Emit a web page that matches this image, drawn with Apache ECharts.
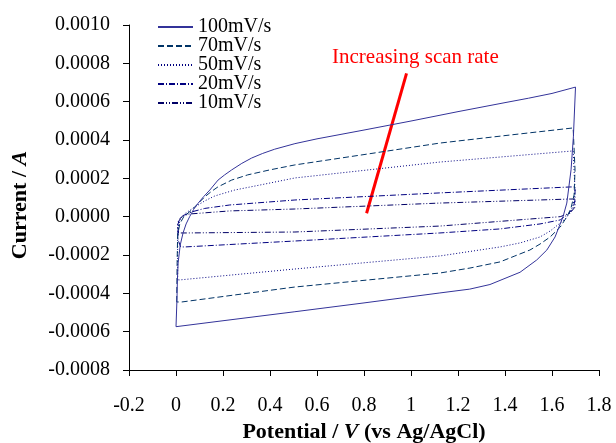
<!DOCTYPE html>
<html>
<head>
<meta charset="UTF-8">
<title>CV</title>
<style>
  * { margin: 0; padding: 0; }
  #main { width: 616px; height: 443px; background: #fff; }
</style>
</head>
<body>
<div id="main"></div>
<script src="https://cdn.jsdelivr.net/npm/echarts@6/dist/echarts.min.js"></script>
<script>
// potential (V) and current (A), one loop per scan rate
var names = ['100mV/s', '70mV/s', '50mV/s', '20mV/s', '10mV/s'];

var v100 = [0.000, 0.004, 0.006, 0.009, 0.018, 0.030, 0.043, 0.058, 0.075, 0.094, 0.118, 0.144, 0.179, 0.207, 0.237, 0.280, 0.322, 0.369, 0.420, 0.506,
            0.600, 0.800, 1.000, 1.200, 1.400, 1.500, 1.600, 1.700,
            1.691, 1.681, 1.663, 1.647, 1.613, 1.578, 1.535, 1.464, 1.400, 1.336, 1.250, 1.123, 0.800, 0.506, 0.200, 0.000];
var i100 = [-0.000574, -0.000435, -0.000330, -0.000242, -0.000148, -0.000085, -0.000038, 0.000000, 0.000038, 0.000070, 0.000105, 0.000139, 0.000191, 0.000218, 0.000244, 0.000278, 0.000306, 0.000330, 0.000352, 0.000381,
            0.000406, 0.000452, 0.000499, 0.000548, 0.000595, 0.000618, 0.000643, 0.000676,
            0.000416, 0.000244, 0.000071, 0.000000, -0.000106, -0.000174, -0.000226, -0.000290, -0.000322, -0.000354, -0.000378, -0.000398, -0.000450, -0.000496, -0.000543, -0.000574];

var v70 = [0.003, 0.005, 0.007, 0.016, 0.033, 0.067, 0.092, 0.122, 0.148, 0.178, 0.237, 0.305, 0.399, 0.506, 0.800, 1.123, 1.400, 1.690,
           1.698, 1.698, 1.694, 1.681, 1.664, 1.635, 1.592, 1.549, 1.506, 1.442, 1.379, 1.251, 1.123, 0.506, 0.025, 0.003];
var i70 = [-0.000445, -0.000226, -0.000096, -0.000038, 0.000000, 0.000035, 0.000066, 0.000103, 0.000129, 0.000155, 0.000191, 0.000218, 0.000244, 0.000270, 0.000324, 0.000384, 0.000423, 0.000463,
           0.000463, 0.000244, 0.000113, 0.000045, 0.000000, -0.000054, -0.000106, -0.000143, -0.000174, -0.000205, -0.000236, -0.000268, -0.000294, -0.000367, -0.000445, -0.000445];

var v50 = [0.007, 0.007, 0.011, 0.020, 0.041, 0.080, 0.122, 0.165, 0.250, 0.357, 0.506, 1.123, 1.690,
           1.698, 1.698, 1.690, 1.677, 1.656, 1.635, 1.592, 1.549, 1.464, 1.379, 1.123, 0.506, 0.016, 0.007];
var i50 = [-0.000330, -0.000122, -0.000043, -0.000007, 0.000019, 0.000050, 0.000082, 0.000108, 0.000139, 0.000165, 0.000202, 0.000285, 0.000343,
           0.000343, 0.000139, 0.000061, 0.000019, -0.000012, -0.000033, -0.000075, -0.000106, -0.000137, -0.000158, -0.000205, -0.000273, -0.000330, -0.000330];

var v20 = [0.020, 0.009, 0.007, 0.016, 0.037, 0.067, 0.122, 0.229, 0.506, 1.123, 1.677,
           1.698, 1.698, 1.690, 1.669, 1.635, 1.549, 1.379, 1.123, 0.506, 0.037, 0.020];
var i20 = [-0.000158, -0.000122, -0.000043, -0.000012, 0.000009, 0.000025, 0.000043, 0.000061, 0.000087, 0.000124, 0.000155,
           0.000155, 0.000087, 0.000045, 0.000014, -0.000017, -0.000038, -0.000064, -0.000085, -0.000127, -0.000158, -0.000158];

var v10 = [0.011, 0.007, 0.011, 0.029, 0.058, 0.229, 0.506, 1.123, 1.677,
           1.698, 1.698, 1.677, 1.635, 1.123, 0.506, 0.046, 0.011];
var i10 = [-0.000085, -0.000049, -0.000017, 0.000004, 0.000014, 0.000030, 0.000040, 0.000071, 0.000092,
           0.000092, 0.000050, 0.000019, 0.000000, -0.000049, -0.000080, -0.000085, -0.000085];

// arrow for the annotation, tail and head in data units
var arrowV = [0.811, 0.981];
var arrowI = [0.0000177, 0.000748];

var loops = [[v100, i100], [v70, i70], [v50, i50], [v20, i20], [v10, i10]];
var colors = ['#333399', '#003366', '#000080', '#000080', '#000066'];
var dashes = ['solid', [6, 3], [1, 2], [6, 2, 1, 2], [6, 2, 1, 2, 1, 2]];

function zip(xs, ys) {
  var out = [];
  for (var k = 0; k < xs.length; k++) out.push([xs[k], ys[k]]);
  return out;
}

var serif = 'Liberation Serif';
var chart = echarts.init(document.getElementById('main'));

var series = [];
for (var s = 0; s < loops.length; s++) {
  series.push({
    name: names[s],
    type: 'line',
    data: zip(loops[s][0], loops[s][1]),
    showSymbol: false,
    symbol: 'none',
    smooth: false,
    lineStyle: { color: colors[s], width: 1, type: dashes[s] },
    itemStyle: { color: colors[s] },
    z: 10 - s
  });
}
series[0].markLine = {
  silent: true,
  symbol: ['none', 'arrow'],
  symbolSize: [0, 12],
  label: { show: false },
  lineStyle: { color: '#ff0000', width: 3, type: 'solid' },
  data: [[{ coord: [arrowV[0], arrowI[0]] }, { coord: [arrowV[1], arrowI[1]] }]]
};

chart.setOption({
  animation: false,
  title: {
    text: 'Increasing scan rate',
    left: 332, top: 47, padding: 0,
    textStyle: { color: '#ff0000', fontFamily: serif, fontSize: 21, fontWeight: 'normal' }
  },
  grid: { left: 129, right: 17, top: 25, bottom: 73, outerBoundsMode: 'none' },
  legend: {
    data: names,
    orient: 'vertical',
    left: 157, top: 17,
    itemWidth: 35, itemHeight: 14, itemGap: -1,
    padding: 0,
    itemStyle: { opacity: 0 },
    textStyle: { fontFamily: serif, fontSize: 20, color: '#000', lineHeight: 18 }
  },
  xAxis: {
    type: 'value',
    min: -0.2, max: 1.8, interval: 0.2,
    name: '{b|Potential / }{bi|V}{b| (vs Ag/AgCl)}',
    nameLocation: 'middle',
    nameGap: 50,
    nameTextStyle: {
      rich: {
        b: { fontFamily: serif, fontSize: 22, fontWeight: 'bold', color: '#000' },
        bi: { fontFamily: serif, fontSize: 22, fontWeight: 'bold', fontStyle: 'italic', color: '#000' }
      }
    },
    axisLine: { onZero: false, lineStyle: { color: '#000', width: 1 } },
    axisTick: { length: 6, lineStyle: { color: '#000' } },
    splitLine: { show: false },
    axisLabel: {
      margin: 26,
      fontFamily: serif, fontSize: 20, color: '#000',
      formatter: function (v) { return String(Number(v.toFixed(1))); }
    }
  },
  yAxis: {
    type: 'value',
    min: -0.0008, max: 0.001, interval: 0.0002,
    name: '{b|Current / }{bi|A}',
    nameLocation: 'middle',
    nameGap: 98,
    nameTextStyle: {
      padding: [0, 15, 0, 0],
      rich: {
        b: { fontFamily: serif, fontSize: 22, fontWeight: 'bold', color: '#000' },
        bi: { fontFamily: serif, fontSize: 22, fontWeight: 'bold', fontStyle: 'italic', color: '#000' }
      }
    },
    axisLine: { show: true, onZero: false, lineStyle: { color: '#000', width: 1 } },
    axisTick: { show: true, length: 6, lineStyle: { color: '#000' } },
    splitLine: { show: false },
    axisLabel: {
      margin: 19,
      fontFamily: serif, fontSize: 20, color: '#000',
      formatter: function (v) { return Math.abs(v) < 1e-9 ? '0.0000' : v.toFixed(4); }
    }
  },
  series: series
});
</script>
</body>
</html>
